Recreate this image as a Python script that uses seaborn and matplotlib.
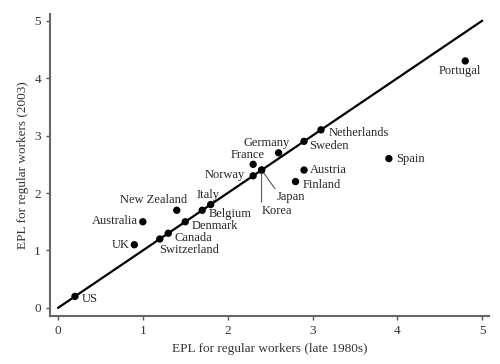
import numpy as np
import pandas as pd
import matplotlib.pyplot as plt
import seaborn as sns

countries = ['US', 'UK', 'Australia', 'Switzerland', 'Canada', 'Denmark',
             'New Zealand', 'Italy', 'Belgium', 'Norway', 'France', 'Japan',
             'Korea', 'Germany', 'Sweden', 'Netherlands', 'Austria', 'Finland',
             'Spain', 'Portugal']
epl_1980s = [0.2, 0.9, 1.0, 1.2, 1.3, 1.5, 1.4, 1.7, 1.8, 2.3, 2.3, 2.4,
             2.4, 2.6, 2.9, 3.1, 2.9, 2.8, 3.9, 4.8]
epl_2003 = [0.2, 1.1, 1.5, 1.2, 1.3, 1.5, 1.7, 1.7, 1.8, 2.3, 2.5, 2.4,
            2.4, 2.7, 2.9, 3.1, 2.4, 2.2, 2.6, 4.3]
diag = [0, 5]

df = pd.DataFrame({'country': countries, 'x': epl_1980s, 'y': epl_2003})

sns.set_style('ticks')
plt.rcParams['font.family'] = ['Liberation Serif', 'DejaVu Serif']

fig = plt.figure(figsize=(5, 3.64), dpi=100)
ax = fig.add_axes([0.1, 0.132, 0.878, 0.83])

sns.lineplot(x=diag, y=diag, color='black', linewidth=1.6, ax=ax)
sns.scatterplot(data=df, x='x', y='y', color='black', s=28,
                edgecolor='none', ax=ax, zorder=3)

# label offsets in pixels (dx, dy), alignment
pos = {
    'US': (7, -3, 'left'),
    'UK': (-5, 0, 'right'),
    'Australia': (-5, 1, 'right'),
    'Switzerland': (-1, -11, 'left'),
    'Canada': (6, -5, 'left'),
    'Denmark': (6, -4, 'left'),
    'New Zealand': (10, 10, 'right'),
    'Italy': (6, 15, 'center'),
    'Belgium': (-2, -9, 'left'),
    'Norway': (-8, 1, 'right'),
    'France': (-5, 9, 'center'),
    'Germany': (-12, 10, 'center'),
    'Sweden': (5, -5, 'left'),
    'Netherlands': (8, -3, 'left'),
    'Austria': (6, 0, 'left'),
    'Finland': (7, -3, 'left'),
    'Spain': (7, 0, 'left'),
    'Portugal': (-5, -10, 'center'),
}
pt = 0.72
fs = 9
for name, xv, yv in zip(countries, epl_1980s, epl_2003):
    if name in pos:
        dx, dy, ha = pos[name]
        ax.annotate(name, (xv, yv), xytext=(dx * pt, dy * pt),
                    textcoords='offset points', ha=ha, va='center',
                    fontsize=fs)

# Japan and Korea share a point, labelled with leader lines
jx, jy = epl_1980s[countries.index('Japan')], epl_2003[countries.index('Japan')]
ax.annotate('Japan', (jx, jy), xytext=(15 * pt, -27 * pt),
            textcoords='offset points', ha='left', va='center', fontsize=fs,
            arrowprops=dict(arrowstyle='-', color='#444', lw=0.7, patchA=None,
                            shrinkA=2, shrinkB=3, relpos=(0.0, 1.0)))
ax.annotate('Korea', (jx, jy), xytext=(0, -41 * pt),
            textcoords='offset points', ha='left', va='center', fontsize=fs,
            arrowprops=dict(arrowstyle='-', color='#444', lw=0.7, patchA=None,
                            shrinkA=2, shrinkB=2, relpos=(0.0, 1.0)))

ax.set_xlim(-0.094, 5.08)
ax.set_ylim(-0.14, 5.12)
ax.set_xticks(range(6))
ax.set_yticks(range(6))
ax.set_xlabel('EPL for regular workers (late 1980s)', fontsize=9.5, color='#333')
ax.set_ylabel('EPL for regular workers (2003)', fontsize=9.5, color='#333')
ax.tick_params(labelsize=9.5, colors='#555', labelcolor='#333', length=3, width=1)
for s in ['left', 'bottom']:
    ax.spines[s].set_color('#666')
    ax.spines[s].set_linewidth(1.5)
sns.despine(ax=ax)

fig.savefig('out.png', dpi=100)
